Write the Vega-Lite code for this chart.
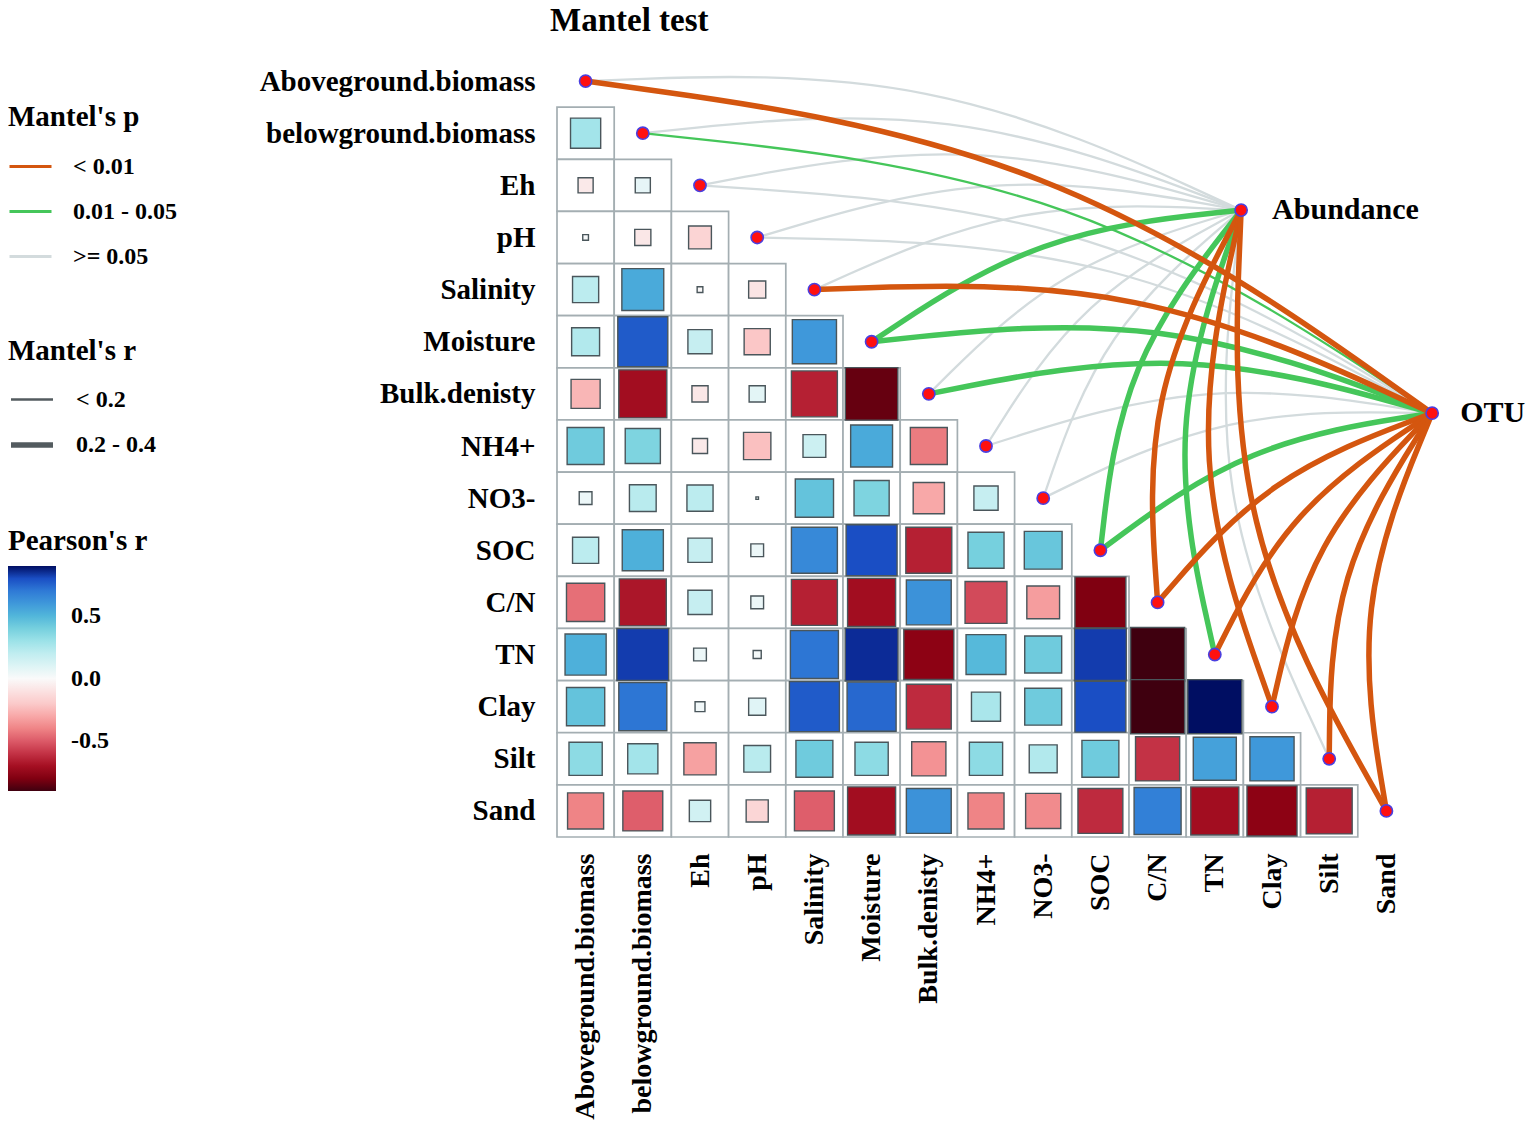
{
  "$schema": "https://vega.github.io/schema/vega-lite/v6.json",
  "width": 858,
  "height": 782,
  "autosize": {"type": "none"},
  "padding": {"left": 557, "top": 55, "right": 120, "bottom": 295},
  "background": "white",
  "title": {"text": "Mantel test", "anchor": "start", "frame": "group", "dx": -7, "offset": 17, "font": "Liberation Serif", "fontSize": 33, "fontWeight": "bold", "color": "#000000"},
  "config": {"view": {"stroke": null}, "font": "Liberation Serif"},
  "datasets": {
    "vars": [
      {"var": "Aboveground.biomass", "i": 0}, {"var": "belowground.biomass", "i": 1}, {"var": "Eh", "i": 2},
      {"var": "pH", "i": 3}, {"var": "Salinity", "i": 4}, {"var": "Moisture", "i": 5},
      {"var": "Bulk.denisty", "i": 6}, {"var": "NH4+", "i": 7}, {"var": "NO3-", "i": 8},
      {"var": "SOC", "i": 9}, {"var": "C/N", "i": 10}, {"var": "TN", "i": 11},
      {"var": "Clay", "i": 12}, {"var": "Silt", "i": 13}, {"var": "Sand", "i": 14}
    ],
    "cells": [
      {"i": 1, "j": 0, "r": 0.28},
      {"i": 2, "j": 0, "r": -0.07}, {"i": 2, "j": 1, "r": 0.07},
      {"i": 3, "j": 0, "r": 0.01}, {"i": 3, "j": 1, "r": -0.08}, {"i": 3, "j": 2, "r": -0.16},
      {"i": 4, "j": 0, "r": 0.21}, {"i": 4, "j": 1, "r": 0.54}, {"i": 4, "j": 2, "r": -0.01}, {"i": 4, "j": 3, "r": -0.09},
      {"i": 5, "j": 0, "r": 0.24}, {"i": 5, "j": 1, "r": 0.77}, {"i": 5, "j": 2, "r": 0.18}, {"i": 5, "j": 3, "r": -0.21}, {"i": 5, "j": 4, "r": 0.6},
      {"i": 6, "j": 0, "r": -0.26}, {"i": 6, "j": 1, "r": -0.71}, {"i": 6, "j": 2, "r": -0.08}, {"i": 6, "j": 3, "r": 0.08}, {"i": 6, "j": 4, "r": -0.65}, {"i": 6, "j": 5, "r": -0.85},
      {"i": 7, "j": 0, "r": 0.42}, {"i": 7, "j": 1, "r": 0.38}, {"i": 7, "j": 2, "r": -0.07}, {"i": 7, "j": 3, "r": -0.23}, {"i": 7, "j": 4, "r": 0.16}, {"i": 7, "j": 5, "r": 0.54}, {"i": 7, "j": 6, "r": -0.42},
      {"i": 8, "j": 0, "r": 0.05}, {"i": 8, "j": 1, "r": 0.22}, {"i": 8, "j": 2, "r": 0.21}, {"i": 8, "j": 3, "r": 0.002}, {"i": 8, "j": 4, "r": 0.45}, {"i": 8, "j": 5, "r": 0.38}, {"i": 8, "j": 6, "r": -0.3}, {"i": 8, "j": 7, "r": 0.18},
      {"i": 9, "j": 0, "r": 0.21}, {"i": 9, "j": 1, "r": 0.52}, {"i": 9, "j": 2, "r": 0.18}, {"i": 9, "j": 3, "r": 0.05}, {"i": 9, "j": 4, "r": 0.65}, {"i": 9, "j": 5, "r": 0.8}, {"i": 9, "j": 6, "r": -0.65}, {"i": 9, "j": 7, "r": 0.4}, {"i": 9, "j": 8, "r": 0.44},
      {"i": 10, "j": 0, "r": -0.45}, {"i": 10, "j": 1, "r": -0.68}, {"i": 10, "j": 2, "r": 0.18}, {"i": 10, "j": 3, "r": 0.05}, {"i": 10, "j": 4, "r": -0.65}, {"i": 10, "j": 5, "r": -0.71}, {"i": 10, "j": 6, "r": 0.62}, {"i": 10, "j": 7, "r": -0.54}, {"i": 10, "j": 8, "r": -0.33}, {"i": 10, "j": 9, "r": -0.8},
      {"i": 11, "j": 0, "r": 0.52}, {"i": 11, "j": 1, "r": 0.83}, {"i": 11, "j": 2, "r": 0.05}, {"i": 11, "j": 3, "r": 0.02}, {"i": 11, "j": 4, "r": 0.71}, {"i": 11, "j": 5, "r": 0.86}, {"i": 11, "j": 6, "r": -0.77}, {"i": 11, "j": 7, "r": 0.49}, {"i": 11, "j": 8, "r": 0.42}, {"i": 11, "j": 9, "r": 0.83}, {"i": 11, "j": 10, "r": -0.9},
      {"i": 12, "j": 0, "r": 0.45}, {"i": 12, "j": 1, "r": 0.71}, {"i": 12, "j": 2, "r": 0.03}, {"i": 12, "j": 3, "r": 0.09}, {"i": 12, "j": 4, "r": 0.77}, {"i": 12, "j": 5, "r": 0.74}, {"i": 12, "j": 6, "r": -0.62}, {"i": 12, "j": 7, "r": 0.26}, {"i": 12, "j": 8, "r": 0.42}, {"i": 12, "j": 9, "r": 0.8}, {"i": 12, "j": 10, "r": -0.9}, {"i": 12, "j": 11, "r": 0.9},
      {"i": 13, "j": 0, "r": 0.34}, {"i": 13, "j": 1, "r": 0.28}, {"i": 13, "j": 2, "r": -0.32}, {"i": 13, "j": 3, "r": 0.22}, {"i": 13, "j": 4, "r": 0.42}, {"i": 13, "j": 5, "r": 0.34}, {"i": 13, "j": 6, "r": -0.36}, {"i": 13, "j": 7, "r": 0.34}, {"i": 13, "j": 8, "r": 0.24}, {"i": 13, "j": 9, "r": 0.42}, {"i": 13, "j": 10, "r": -0.6}, {"i": 13, "j": 11, "r": 0.57}, {"i": 13, "j": 12, "r": 0.6},
      {"i": 14, "j": 0, "r": -0.4}, {"i": 14, "j": 1, "r": -0.49}, {"i": 14, "j": 2, "r": 0.14}, {"i": 14, "j": 3, "r": -0.15}, {"i": 14, "j": 4, "r": -0.49}, {"i": 14, "j": 5, "r": -0.71}, {"i": 14, "j": 6, "r": 0.62}, {"i": 14, "j": 7, "r": -0.4}, {"i": 14, "j": 8, "r": -0.38}, {"i": 14, "j": 9, "r": -0.62}, {"i": 14, "j": 10, "r": 0.68}, {"i": 14, "j": 11, "r": -0.71}, {"i": 14, "j": 12, "r": -0.77}, {"i": 14, "j": 13, "r": -0.65}
    ],
    "links": [
      {"spec": "Abundance", "env": "Aboveground.biomass", "i": 0, "p": ">= 0.05", "r": "< 0.2"},
      {"spec": "Abundance", "env": "belowground.biomass", "i": 1, "p": ">= 0.05", "r": "< 0.2"},
      {"spec": "Abundance", "env": "Eh", "i": 2, "p": ">= 0.05", "r": "< 0.2"},
      {"spec": "Abundance", "env": "pH", "i": 3, "p": ">= 0.05", "r": "< 0.2"},
      {"spec": "Abundance", "env": "Salinity", "i": 4, "p": ">= 0.05", "r": "< 0.2"},
      {"spec": "Abundance", "env": "Bulk.denisty", "i": 6, "p": ">= 0.05", "r": "< 0.2"},
      {"spec": "Abundance", "env": "NH4+", "i": 7, "p": ">= 0.05", "r": "< 0.2"},
      {"spec": "Abundance", "env": "NO3-", "i": 8, "p": ">= 0.05", "r": "< 0.2"},
      {"spec": "Abundance", "env": "Silt", "i": 13, "p": ">= 0.05", "r": "< 0.2"},
      {"spec": "OTU", "env": "Eh", "i": 2, "p": ">= 0.05", "r": "< 0.2"},
      {"spec": "OTU", "env": "pH", "i": 3, "p": ">= 0.05", "r": "< 0.2"},
      {"spec": "OTU", "env": "NH4+", "i": 7, "p": ">= 0.05", "r": "< 0.2"},
      {"spec": "OTU", "env": "NO3-", "i": 8, "p": ">= 0.05", "r": "< 0.2"},
      {"spec": "OTU", "env": "belowground.biomass", "i": 1, "p": "0.01 - 0.05", "r": "< 0.2"},
      {"spec": "Abundance", "env": "Moisture", "i": 5, "p": "0.01 - 0.05", "r": "0.2 - 0.4"},
      {"spec": "Abundance", "env": "SOC", "i": 9, "p": "0.01 - 0.05", "r": "0.2 - 0.4"},
      {"spec": "Abundance", "env": "TN", "i": 11, "p": "0.01 - 0.05", "r": "0.2 - 0.4"},
      {"spec": "OTU", "env": "Moisture", "i": 5, "p": "0.01 - 0.05", "r": "0.2 - 0.4"},
      {"spec": "OTU", "env": "Bulk.denisty", "i": 6, "p": "0.01 - 0.05", "r": "0.2 - 0.4"},
      {"spec": "OTU", "env": "SOC", "i": 9, "p": "0.01 - 0.05", "r": "0.2 - 0.4"},
      {"spec": "Abundance", "env": "C/N", "i": 10, "p": "< 0.01", "r": "0.2 - 0.4"},
      {"spec": "Abundance", "env": "Clay", "i": 12, "p": "< 0.01", "r": "0.2 - 0.4"},
      {"spec": "Abundance", "env": "Sand", "i": 14, "p": "< 0.01", "r": "0.2 - 0.4"},
      {"spec": "OTU", "env": "Aboveground.biomass", "i": 0, "p": "< 0.01", "r": "0.2 - 0.4"},
      {"spec": "OTU", "env": "Salinity", "i": 4, "p": "< 0.01", "r": "0.2 - 0.4"},
      {"spec": "OTU", "env": "C/N", "i": 10, "p": "< 0.01", "r": "0.2 - 0.4"},
      {"spec": "OTU", "env": "TN", "i": 11, "p": "< 0.01", "r": "0.2 - 0.4"},
      {"spec": "OTU", "env": "Clay", "i": 12, "p": "< 0.01", "r": "0.2 - 0.4"},
      {"spec": "OTU", "env": "Silt", "i": 13, "p": "< 0.01", "r": "0.2 - 0.4"},
      {"spec": "OTU", "env": "Sand", "i": 14, "p": "< 0.01", "r": "0.2 - 0.4"}
    ]
  },
  "layer": [
    {
      "data": {"name": "cells"},
      "mark": {"type": "point", "shape": "M-1,-0.911H1V0.911H-1Z", "size": 3272, "filled": true, "fill": "#ffffff", "stroke": "#A4AEB2", "strokeWidth": 1.7, "opacity": 1},
      "encoding": {
        "x": {"field": "j", "type": "quantitative", "scale": {"domain": [-0.5, 14.5], "nice": false, "zero": false},
          "axis": {"values": [0,1,2,3,4,5,6,7,8,9,10,11,12,13,14], "labelExpr": "['Aboveground.biomass','belowground.biomass','Eh','pH','Salinity','Moisture','Bulk.denisty','NH4+','NO3-','SOC','C/N','TN','Clay','Silt','Sand'][datum.value]", "labelAngle": -90, "domain": false, "ticks": false, "grid": false, "labelPadding": 16, "labelFont": "Liberation Serif", "labelFontSize": 28, "labelFontWeight": "bold", "labelColor": "#000000", "labelOverlap": false, "labelFlush": false, "labelBound": false, "labelLimit": 400, "title": null}},
        "y": {"field": "i", "type": "quantitative", "scale": {"domain": [-0.5, 14.5], "nice": false, "zero": false, "reverse": true},
          "axis": {"values": [0,1,2,3,4,5,6,7,8,9,10,11,12,13,14], "labelExpr": "['Aboveground.biomass','belowground.biomass','Eh','pH','Salinity','Moisture','Bulk.denisty','NH4+','NO3-','SOC','C/N','TN','Clay','Silt','Sand'][datum.value]", "domain": false, "ticks": false, "grid": false, "labelPadding": 22, "labelFont": "Liberation Serif", "labelFontSize": 29, "labelFontWeight": "bold", "labelColor": "#000000", "labelOverlap": false, "labelFlush": false, "labelBound": false, "labelLimit": 400, "title": null}}
      }
    },
    {
      "data": {"name": "cells"},
      "mark": {"type": "point", "shape": "square", "filled": true, "stroke": "#4A565B", "strokeWidth": 1.4, "opacity": 1},
      "encoding": {
        "x": {"field": "j", "type": "quantitative", "title": null},
        "y": {"field": "i", "type": "quantitative", "title": null},
        "size": {"field": "r", "type": "quantitative", "scale": {"type": "linear", "domain": [-1, 0, 1], "range": [3249, 0, 3249], "nice": false, "zero": false}, "legend": null},
        "fill": {"field": "r", "type": "quantitative",
          "scale": {"domain": [-0.9, -0.85, -0.78, -0.7, -0.62, -0.5, -0.4, -0.3, -0.2, 0, 0.2, 0.3, 0.4, 0.5, 0.6, 0.7, 0.8, 0.87, 0.9],
                    "range": ["#3F000F", "#660010", "#8A0012", "#A50F22", "#BE2A3E", "#DC5A68", "#EF8486", "#F8A8A8", "#FBCACA", "#FAFAFA", "#C0EDF0", "#9CE2E8", "#76D0DE", "#52B6DA", "#3F98DA", "#2F7AD6", "#1A4EC4", "#0A2590", "#000E62"],
                    "interpolate": "rgb", "clamp": true, "nice": false, "zero": false},
          "legend": {"title": "Pearson's r", "orient": "none", "legendX": -549, "legendY": 472, "direction": "vertical", "gradientLength": 225, "gradientThickness": 48, "gradientStrokeWidth": 0, "values": [0.5, 0, -0.5], "labelExpr": "datum.value < 0 ? '-' + format(-datum.value, '.1f') : format(datum.value, '.1f')", "labelOffset": 15, "titlePadding": 10, "titleFont": "Liberation Serif", "titleFontSize": 29, "titleFontWeight": "bold", "titleColor": "#000000", "labelFont": "Liberation Serif", "labelFontSize": 24, "labelFontWeight": "bold", "labelColor": "#000000"}}
      }
    },
    {
      "data": {"name": "links"},
      "transform": [
        {"calculate": "datum.spec === 'Abundance' ? 11.46 : 14.8", "as": "nx"},
        {"calculate": "datum.spec === 'Abundance' ? 2.475 : 6.37", "as": "ny"},
        {"calculate": "[datum.i, (datum.i + datum.nx) / 2 + 0.13 * (datum.ny - datum.i), datum.nx]", "as": "xs"},
        {"calculate": "[datum.i, (datum.i + datum.ny) / 2 + 0.13 * (datum.i - datum.nx), datum.ny]", "as": "ys"},
        {"flatten": ["xs", "ys"], "as": ["px", "py"]},
        {"window": [{"op": "row_number", "as": "k"}], "groupby": ["spec", "env"]}
      ],
      "mark": {"type": "line", "interpolate": "basis", "strokeCap": "round"},
      "encoding": {
        "x": {"field": "px", "type": "quantitative", "title": null},
        "y": {"field": "py", "type": "quantitative", "title": null},
        "order": {"field": "k", "type": "quantitative"},
        "detail": [{"field": "spec"}, {"field": "env"}],
        "stroke": {"field": "p", "type": "nominal",
          "scale": {"domain": ["< 0.01", "0.01 - 0.05", ">= 0.05"], "range": ["#D4560F", "#45C65A", "#D3DBDD"]},
          "legend": {"title": "Mantel's p", "orient": "none", "legendX": -549, "legendY": 48, "symbolType": "stroke", "symbolSize": 1764, "symbolStrokeWidth": 3, "labelOffset": 20, "rowPadding": 10, "titlePadding": 12, "titleFont": "Liberation Serif", "titleFontSize": 29, "titleFontWeight": "bold", "titleColor": "#000000", "labelFont": "Liberation Serif", "labelFontSize": 24, "labelFontWeight": "bold", "labelColor": "#000000", "labelLimit": 300}},
        "strokeWidth": {"field": "r", "type": "ordinal",
          "scale": {"domain": ["< 0.2", "0.2 - 0.4"], "range": [2.3, 5.5]},
          "legend": {"title": "Mantel's r", "orient": "none", "legendX": -549, "legendY": 282, "symbolType": "stroke", "symbolSize": 1764, "symbolStrokeColor": "#535B5F", "labelOffset": 20, "rowPadding": 9, "titlePadding": 11, "titleFont": "Liberation Serif", "titleFontSize": 29, "titleFontWeight": "bold", "titleColor": "#000000", "labelFont": "Liberation Serif", "labelFontSize": 24, "labelFontWeight": "bold", "labelColor": "#000000", "labelLimit": 300}}
      }
    },
    {
      "data": {"name": "vars"},
      "mark": {"type": "point", "shape": "circle", "filled": true, "fill": "#FF1010", "stroke": "#4A3FE0", "strokeWidth": 1.6, "size": 150, "opacity": 1},
      "encoding": {
        "x": {"field": "i", "type": "quantitative", "title": null},
        "y": {"field": "i", "type": "quantitative", "title": null}
      }
    },
    {
      "data": {"values": [{"node": "Abundance"}]},
      "layer": [
        {"mark": {"type": "point", "shape": "circle", "filled": true, "fill": "#FF1010", "stroke": "#4A3FE0", "strokeWidth": 1.6, "size": 150, "opacity": 1},
         "encoding": {"x": {"datum": 11.46, "type": "quantitative"}, "y": {"datum": 2.475, "type": "quantitative"}}},
        {"mark": {"type": "text", "align": "left", "baseline": "middle", "dx": 31, "font": "Liberation Serif", "fontSize": 30, "fontWeight": "bold", "color": "#000000"},
         "encoding": {"x": {"datum": 11.46, "type": "quantitative"}, "y": {"datum": 2.475, "type": "quantitative"}, "text": {"field": "node"}}}
      ]
    },
    {
      "data": {"values": [{"node": "OTU"}]},
      "layer": [
        {"mark": {"type": "point", "shape": "circle", "filled": true, "fill": "#FF1010", "stroke": "#4A3FE0", "strokeWidth": 1.6, "size": 150, "opacity": 1},
         "encoding": {"x": {"datum": 14.8, "type": "quantitative"}, "y": {"datum": 6.37, "type": "quantitative"}}},
        {"mark": {"type": "text", "align": "left", "baseline": "middle", "dx": 28, "font": "Liberation Serif", "fontSize": 30, "fontWeight": "bold", "color": "#000000"},
         "encoding": {"x": {"datum": 14.8, "type": "quantitative"}, "y": {"datum": 6.37, "type": "quantitative"}, "text": {"field": "node"}}}
      ]
    }
  ]
}
